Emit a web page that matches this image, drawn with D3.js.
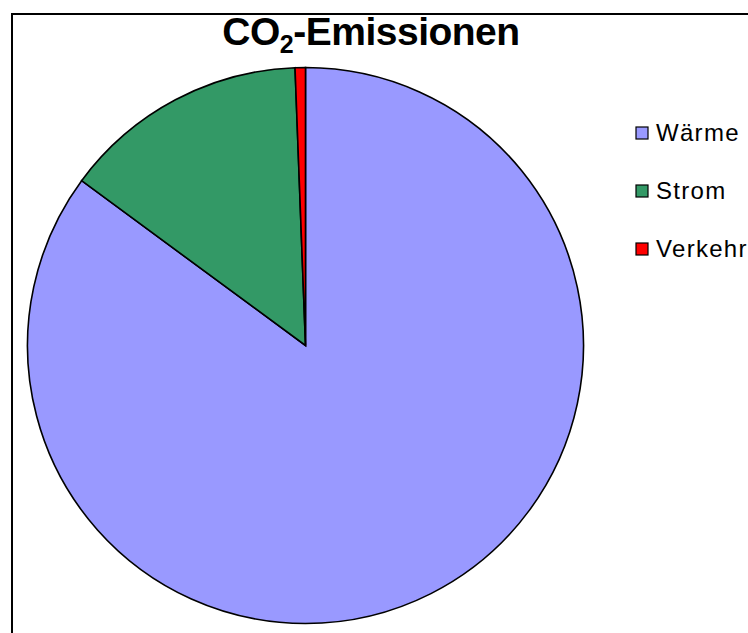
<!DOCTYPE html>
<html><head><meta charset="utf-8">
<script src="https://cdn.jsdelivr.net/npm/d3@7/dist/d3.min.js"></script>
<style>html,body{margin:0;padding:0;background:#fff;overflow:hidden}</style>
</head><body>
<svg id="chart" width="748" height="633"></svg>
<script>
const categories = ["Wärme", "Strom", "Verkehr"];
const values = [85.1, 14.3, 0.6];
const colors = ["#9999FF", "#339966", "#FF0000"];

const svg = d3.select("#chart");

// frame
svg.append("rect").attr("x", 12).attr("y", 14).attr("width", 800).attr("height", 700)
  .attr("fill", "#fff").attr("stroke", "#000").attr("stroke-width", 2);

// title
const title = svg.append("text").attr("x", 371).attr("y", 45)
  .attr("text-anchor", "middle")
  .attr("font-family", "Liberation Sans, Arial, sans-serif")
  .attr("font-weight", "bold").attr("font-size", 39)
  .attr("letter-spacing", -0.5);
title.append("tspan").text("CO");
title.append("tspan").text("2").attr("font-size", 25).attr("dy", 8);
title.append("tspan").text("-Emissionen").attr("dy", -8);

// pie
const cx = 305.5, cy = 345.5, r = 278;
const pie = d3.pie().sort(null).value(d => d.v);
const arc = d3.arc().innerRadius(0).outerRadius(r);
const data = categories.map((c, i) => ({c, v: values[i], col: colors[i]}));
const g = svg.append("g").attr("transform", `translate(${cx},${cy})`);
g.selectAll("path").data(pie(data)).join("path")
  .attr("d", arc).attr("fill", d => d.data.col)
  .attr("stroke", "#000").attr("stroke-width", 1.6).attr("stroke-linejoin", "miter");

// legend
const y = d3.scalePoint().domain(categories).range([133, 249]);
const lg = svg.append("g");
const items = lg.selectAll("g").data(data).join("g")
  .attr("transform", d => `translate(636,${y(d.c)})`);
items.append("rect").attr("x", 0).attr("y", -6).attr("width", 12).attr("height", 12)
  .attr("fill", d => d.col).attr("stroke", "#000").attr("stroke-width", 1.2);
items.append("text").attr("x", 20).attr("y", 8)
  .attr("font-family", "Liberation Sans, Arial, sans-serif")
  .attr("font-size", 24).attr("letter-spacing", 1.3)
  .text(d => d.c);
</script>
</body></html>
